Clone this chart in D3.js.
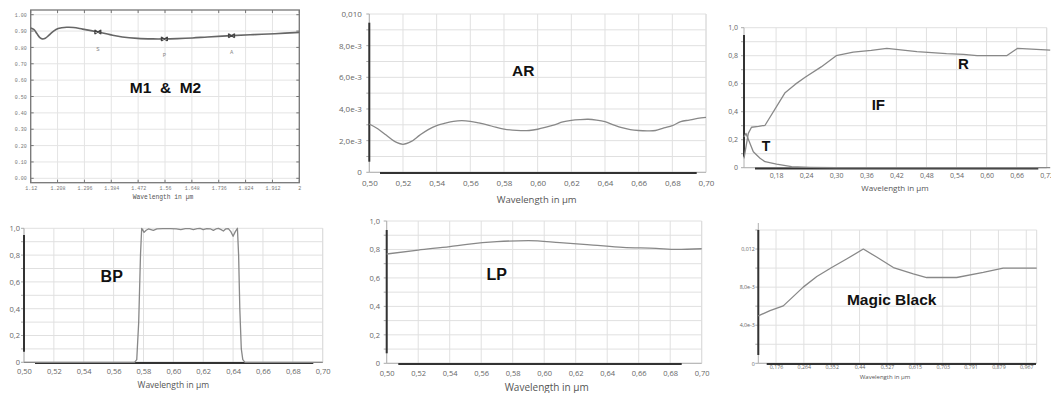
<!DOCTYPE html>
<html><head><meta charset="utf-8">
<script src="https://cdn.jsdelivr.net/npm/d3@7"></script>
<style>body{margin:0;background:#fff}svg{display:block}</style>
</head><body><svg id="c" width="1051" height="393"></svg>
<script>
// ---------- DATA ----------
// Panel M1 & M2
const m1Wavelength = [1.12,1.13,1.14,1.15,1.158,1.168,1.18,1.195,1.21,1.238,1.26,1.29,1.34,1.38,1.42,1.47,1.52,1.558,1.6,1.65,1.70,1.778,1.85,1.92,2.0];
const m1Value = [0.918,0.91,0.885,0.86,0.852,0.856,0.875,0.9,0.915,0.923,0.922,0.912,0.894,0.878,0.864,0.855,0.852,0.852,0.854,0.858,0.864,0.872,0.878,0.884,0.892];
const m1MarkerNames = ["S","P","A"];
const m1MarkerWavelength = [1.34,1.558,1.778];
const m1MarkerValue = [0.894,0.852,0.872];
const m1XTicks = [1.12,1.208,1.296,1.384,1.472,1.56,1.648,1.736,1.824,1.912,2.0];
const m1XLabels = ["1.12","1.208","1.296","1.384","1.472","1.56","1.648","1.736","1.824","1.912","2"];
const m1YTicks = [0,0.1,0.2,0.3,0.4,0.5,0.6,0.7,0.8,0.9,1.0];
const m1YLabels = ["0.00","0.10","0.20","0.30","0.40","0.50","0.60","0.70","0.80","0.90","1.00"];

// Panel AR
const arWavelength = [0.50,0.505,0.51,0.515,0.52,0.525,0.53,0.535,0.54,0.545,0.55,0.555,0.56,0.565,0.57,0.575,0.58,0.585,0.59,0.595,0.60,0.605,0.61,0.615,0.62,0.625,0.63,0.635,0.64,0.645,0.65,0.655,0.66,0.665,0.67,0.675,0.68,0.685,0.69,0.695,0.70];
const arValue = [3.05e-3,2.75e-3,2.35e-3,1.95e-3,1.77e-3,1.95e-3,2.35e-3,2.7e-3,2.95e-3,3.1e-3,3.22e-3,3.26e-3,3.22e-3,3.12e-3,3.0e-3,2.85e-3,2.73e-3,2.66e-3,2.63e-3,2.64e-3,2.72e-3,2.85e-3,3.0e-3,3.18e-3,3.28e-3,3.33e-3,3.35e-3,3.3e-3,3.2e-3,3.0e-3,2.82e-3,2.7e-3,2.64e-3,2.62e-3,2.64e-3,2.8e-3,2.95e-3,3.2e-3,3.3e-3,3.4e-3,3.47e-3];
const arXTicks = [0.50,0.52,0.54,0.56,0.58,0.60,0.62,0.64,0.66,0.68,0.70];
const arXLabels = ["0,50","0,52","0,54","0,56","0,58","0,60","0,62","0,64","0,66","0,68","0,70"];
const arYGrid = [0,0.001,0.002,0.003,0.004,0.005,0.006,0.007,0.008,0.009,0.010];
const arYTicks = [0,0.002,0.004,0.006,0.008,0.010];
const arYLabels = ["0","2,0e-3","4,0e-3","6,0e-3","8,0e-3","0,010"];

// Panel IF
const ifRWavelength = [0.116,0.1246,0.131,0.145,0.158,0.198,0.218,0.238,0.27,0.30,0.334,0.37,0.401,0.461,0.52,0.554,0.581,0.64,0.662,0.727];
const ifRValue = [0.067,0.245,0.289,0.295,0.303,0.536,0.595,0.646,0.72,0.80,0.825,0.838,0.853,0.829,0.815,0.81,0.80,0.80,0.853,0.84];
const ifTWavelength = [0.116,0.12,0.1346,0.148,0.158,0.181,0.211,0.248,0.30,0.727];
const ifTValue = [0.22,0.245,0.114,0.067,0.043,0.026,0.007,0.003,0.0,0.0];
const ifXTicks = [0.18,0.24,0.30,0.36,0.42,0.48,0.54,0.60,0.66,0.72];
const ifXLabels = ["0,18","0,24","0,30","0,36","0,42","0,48","0,54","0,60","0,66","0,72"];
const unitYGrid = [0,0.1,0.2,0.3,0.4,0.5,0.6,0.7,0.8,0.9,1.0];
const unitYTicks = [0,0.2,0.4,0.6,0.8,1.0];
const unitYLabels = ["0","0,2","0,4","0,6","0,8","1,0"];

// Panel BP
const bpWavelength = [0.50,0.574,0.5755,0.5768,0.578,0.5788,0.5796,0.5804,0.5818,0.5833,0.585,0.5866,0.589,0.593,0.598,0.602,0.605,0.608,0.611,0.6134,0.616,0.6179,0.620,0.6224,0.625,0.6268,0.6285,0.6302,0.632,0.6335,0.635,0.6368,0.6385,0.640,0.6415,0.6429,0.6437,0.6445,0.6455,0.6465,0.648,0.70];
const bpValue = [0,0,0.02,0.3,0.8,1.0,0.985,0.97,0.985,0.995,0.99,0.985,0.995,0.998,0.998,0.995,0.99,0.997,0.998,0.99,0.997,0.999,0.99,0.998,0.995,0.985,0.995,1.0,0.99,0.98,0.995,0.998,0.975,0.94,0.975,1.0,0.8,0.4,0.1,0.02,0,0];

// Panel LP
const lpWavelength = [0.50,0.52,0.54,0.551,0.57,0.59,0.61,0.631,0.65,0.671,0.684,0.70];
const lpValue = [0.768,0.796,0.82,0.836,0.855,0.862,0.848,0.831,0.815,0.808,0.80,0.805];

// Panel Magic Black
const mbWavelength = [0.12,0.157,0.199,0.262,0.305,0.352,0.399,0.452,0.494,0.547,0.61,0.652,0.747,0.831,0.894,1.0];
const mbValue = [0.00498,0.00554,0.00603,0.008,0.00912,0.01006,0.01095,0.012,0.01116,0.01006,0.0094,0.00901,0.00901,0.00954,0.01,0.01];
const mbXTicks = [0.176,0.264,0.352,0.44,0.527,0.615,0.703,0.791,0.879,0.967];
const mbXLabels = ["0,176","0,264","0,352","0,44","0,527","0,615","0,703","0,791","0,879","0,967"];
const mbYGrid = [0,0.002,0.004,0.006,0.008,0.010,0.012,0.014];
const mbYTicks = [0,0.004,0.008,0.012];
const mbYLabels = ["0","4,0e-3","8,0e-3","0,012"];

const axisTitle = "Wavelength in µm";

// ---------- DRAW ----------
const svg = d3.select("#c");
const SANS = "'Open Sans', 'DejaVu Sans', sans-serif";
const BOLD = "'Liberation Sans', Arial, sans-serif";

function zip(a,b){ return a.map((d,i)=>[d,b[i]]); }

function modernPanel(o){
  const g = svg.append("g");
  const x = d3.scaleLinear().domain(o.xDomain).range(o.xRange);
  const y = d3.scaleLinear().domain(o.yDomain).range(o.yRange);
  const [x0,x1] = o.xRange, [yb,yt] = o.yRange;
  g.selectAll(".hg").data(o.yGrid).join("line")
    .attr("x1",x0).attr("x2",x1).attr("y1",d=>y(d)).attr("y2",d=>y(d))
    .attr("stroke","#e0e0e0").attr("stroke-width",1);
  g.selectAll(".vg").data(o.xGrid).join("line")
    .attr("x1",d=>x(d)).attr("x2",d=>x(d)).attr("y1",yb).attr("y2",yt)
    .attr("stroke","#e0e0e0").attr("stroke-width",1);
  g.append("line").attr("x1",x1).attr("x2",x1).attr("y1",yb).attr("y2",yt).attr("stroke","#dcdcdc");
  g.append("line").attr("x1",x0).attr("x2",x0).attr("y1",yb).attr("y2",yt - (o.axisExtra||0)).attr("stroke","#b0b0b0");
  g.append("line").attr("x1",x0).attr("x2",x1).attr("y1",yb).attr("y2",yb).attr("stroke","#b0b0b0");
  g.selectAll(".lt").data(o.yGrid).join("line")
    .attr("x1",x0-3).attr("x2",x0).attr("y1",d=>y(d)).attr("y2",d=>y(d)).attr("stroke","#aaa");
  const ya = d3.axisLeft(y).tickValues(o.yTicks).tickFormat((d,i)=>o.yLabels[i]).tickSize(0).tickPadding(o.yPad);
  const gy = g.append("g").attr("transform",`translate(${x0},0)`).call(ya);
  gy.select(".domain").remove();
  gy.attr("font-family",SANS).attr("font-size",o.tickFs);
  gy.selectAll("text").attr("fill","#666");
  const xa = d3.axisBottom(x).tickValues(o.xTicks).tickFormat((d,i)=>o.xLabels[i]).tickSize(0).tickPadding(o.xPad);
  const gx = g.append("g").attr("transform",`translate(0,${yb})`).call(xa);
  gx.select(".domain").remove();
  gx.attr("font-family",SANS).attr("font-size",o.xTickFs||o.tickFs);
  gx.selectAll("text").attr("fill","#666");
  g.append("line").attr("x1",x0).attr("x2",x0).attr("y1",o.darkY[0]).attr("y2",o.darkY[1]).attr("stroke","#333").attr("stroke-width",2);
  g.append("line").attr("x1",o.darkX[0]).attr("x2",o.darkX[1]).attr("y1",yb+0.7).attr("y2",yb+0.7).attr("stroke","#333").attr("stroke-width",2);
  o.series.forEach(s=>{
    const line = d3.line().x(d=>x(d[0])).y(d=>y(d[1])).curve(s.curve||d3.curveLinear);
    g.append("path").datum(s.data).attr("d",line).attr("fill","none")
      .attr("stroke","#888").attr("stroke-width",1.3).attr("stroke-linejoin","round");
  });
  g.append("text").attr("x",o.title[0]).attr("y",o.title[1]+o.titleFs*0.35)
    .attr("text-anchor","middle").attr("font-family",SANS).attr("font-size",o.titleFs)
    .attr("fill","#555").text(axisTitle);
  o.labels.forEach(l=>{
    g.append("text").attr("x",l.x).attr("y",l.y+l.fs*0.36).attr("text-anchor","middle")
      .attr("font-family",BOLD).attr("font-weight","bold").attr("font-size",l.fs)
      .attr("fill","#111").text(l.t);
  });
}

// ---- Panel 1: M1 & M2 (old-style framed plot) ----
(function(){
  const g = svg.append("g");
  const MONO = "'Liberation Mono','DejaVu Sans Mono',monospace";
  const x = d3.scaleLinear().domain([1.12,2.0]).range([30.7,299.3]);
  const y = d3.scaleLinear().domain([0,1]).range([178.3,14.7]);
  const fx0=30.7, fx1=299.3, fy0=10, fy1=182.7;
  g.selectAll(".hg").data(m1YTicks).join("line")
    .attr("x1",fx0).attr("x2",fx1).attr("y1",d=>y(d)).attr("y2",d=>y(d)).attr("stroke","#e4e4e4");
  g.selectAll(".vg").data(m1XTicks).join("line")
    .attr("x1",d=>x(d)).attr("x2",d=>x(d)).attr("y1",fy0).attr("y2",fy1).attr("stroke","#e4e4e4");
  g.selectAll(".tt").data(m1XTicks).join("line").attr("x1",d=>x(d)).attr("x2",d=>x(d)).attr("y1",fy0).attr("y2",fy0+3).attr("stroke","#777");
  g.selectAll(".bt").data(m1XTicks).join("line").attr("x1",d=>x(d)).attr("x2",d=>x(d)).attr("y1",fy1).attr("y2",fy1-3).attr("stroke","#777");
  g.selectAll(".lt").data(m1YTicks).join("line").attr("x1",fx0).attr("x2",fx0+3).attr("y1",d=>y(d)).attr("y2",d=>y(d)).attr("stroke","#777");
  g.selectAll(".rt").data(m1YTicks).join("line").attr("x1",fx1).attr("x2",fx1-3).attr("y1",d=>y(d)).attr("y2",d=>y(d)).attr("stroke","#777");
  g.append("rect").attr("x",fx0).attr("y",fy0).attr("width",fx1-fx0).attr("height",fy1-fy0)
    .attr("fill","none").attr("stroke","#777").attr("stroke-width",1.3);
  const ya = d3.axisLeft(y).tickValues(m1YTicks).tickFormat((d,i)=>m1YLabels[i]).tickSize(0).tickPadding(4);
  const gy = g.append("g").attr("transform",`translate(${fx0},0)`).call(ya);
  gy.select(".domain").remove();
  gy.attr("font-family",MONO).attr("font-size",5); gy.selectAll("text").attr("fill","#777");
  const xa = d3.axisBottom(x).tickValues(m1XTicks).tickFormat((d,i)=>m1XLabels[i]).tickSize(0).tickPadding(3.5);
  const gx = g.append("g").attr("transform",`translate(0,${fy1})`).call(xa);
  gx.select(".domain").remove();
  gx.attr("font-family",MONO).attr("font-size",5); gx.selectAll("text").attr("fill","#777");
  const line = d3.line().x(d=>x(d[0])).y(d=>y(d[1])).curve(d3.curveCatmullRom);
  g.append("path").datum(zip(m1Wavelength,m1Value)).attr("d",line).attr("fill","none")
    .attr("stroke","#666").attr("stroke-width",1.6);
  const mk = "M-3,-2L3,2M-3,2L3,-2M-3,-2.2L-3,2.2M3,-2.2L3,2.2";
  m1MarkerNames.forEach((n,i)=>{
    const mx = x(m1MarkerWavelength[i]), my = y(m1MarkerValue[i]);
    g.append("path").attr("d",mk).attr("transform",`translate(${mx},${my})`)
      .attr("stroke","#444").attr("stroke-width",1.2).attr("fill","none");
    g.append("text").attr("x",mx).attr("y",my+18.5).attr("text-anchor","middle")
      .attr("font-family",MONO).attr("font-size",5.5).attr("fill","#888").text(n);
  });
  g.append("text").attr("x",163).attr("y",199).attr("text-anchor","middle")
    .attr("font-family",MONO).attr("font-size",6.3).attr("fill","#555").text(axisTitle);
  g.append("text").attr("x",165.5).attr("y",87+5.6).attr("text-anchor","middle")
    .attr("font-family",BOLD).attr("font-weight","bold").attr("font-size",15.5)
    .attr("fill","#111").style("white-space","pre").text("M1  &  M2");
})();

// ---- Panel 2: AR ----
modernPanel({
  xDomain:[0.50,0.70], xRange:[369.3,706], yDomain:[0,0.010], yRange:[172.3,14],
  yGrid:arYGrid, xGrid:arXTicks, yTicks:arYTicks, yLabels:arYLabels,
  xTicks:arXTicks, xLabels:arXLabels, yPad:7.5, xPad:8, tickFs:8,
  darkY:[22.7,161.7], darkX:[380,696.7],
  series:[{data:zip(arWavelength,arValue),curve:d3.curveCatmullRom}],
  title:[536.7,200], titleFs:9.5,
  labels:[{t:"AR",x:523.3,y:70,fs:15.5}]
});

// ---- Panel 3: IF ----
modernPanel({
  xDomain:[0.116,0.72], xRange:[744,1046.7], yDomain:[0,1], yRange:[167.7,27.7],
  yGrid:unitYGrid, xGrid:ifXTicks, yTicks:unitYTicks, yLabels:unitYLabels,
  xTicks:ifXTicks, xLabels:ifXLabels, yPad:6, xPad:5.5, tickFs:7,
  darkY:[35,156.7], darkX:[755,1038.3],
  series:[{data:zip(ifRWavelength,ifRValue)},{data:zip(ifTWavelength,ifTValue)}],
  title:[895,187.7], titleFs:8,
  labels:[{t:"T",x:766,y:145.7,fs:14},{t:"IF",x:878.3,y:105,fs:15},{t:"R",x:963.3,y:64,fs:15}]
});

// ---- Panel 4: BP ----
modernPanel({
  xDomain:[0.50,0.70], xRange:[24,322.7], yDomain:[0,1], yRange:[362.3,228.3],
  yGrid:unitYGrid, xGrid:arXTicks, yTicks:unitYTicks, yLabels:unitYLabels,
  xTicks:arXTicks, xLabels:arXLabels, yPad:4, xPad:6.8, tickFs:7.5,
  darkY:[235,351.7], darkX:[35,313.3],
  series:[{data:zip(bpWavelength,bpValue)}],
  title:[173.3,385], titleFs:8.5,
  labels:[{t:"BP",x:111.7,y:276,fs:16}]
});

// ---- Panel 5: LP ----
modernPanel({
  xDomain:[0.50,0.70], xRange:[386.7,701.7], yDomain:[0,1], yRange:[363.3,221],
  yGrid:unitYGrid, xGrid:arXTicks, yTicks:unitYTicks, yLabels:unitYLabels,
  xTicks:arXTicks, xLabels:arXLabels, yPad:6.7, xPad:7, tickFs:7.5,
  darkY:[230,353.3], darkX:[398.3,681.7],
  series:[{data:zip(lpWavelength,lpValue),curve:d3.curveMonotoneX}],
  title:[546.7,387.5], titleFs:10,
  labels:[{t:"LP",x:496.7,y:274,fs:16}]
});

// ---- Panel 6: Magic Black ----
modernPanel({
  xDomain:[0.12,1.0], xRange:[758.3,1036.7], yDomain:[0,0.014], yRange:[363.3,230],
  yGrid:mbYGrid, xGrid:mbXTicks, yTicks:mbYTicks, yLabels:mbYLabels,
  xTicks:mbXTicks, xLabels:mbXLabels, yPad:3.5, xPad:2.2, tickFs:5.3,
  darkY:[230,355], darkX:[766.7,1036], axisExtra:7,
  series:[{data:zip(mbWavelength,mbValue)}],
  title:[885,377], titleFs:6,
  labels:[{t:"Magic Black",x:891.7,y:299.3,fs:15.5}]
});
</script></body></html>
